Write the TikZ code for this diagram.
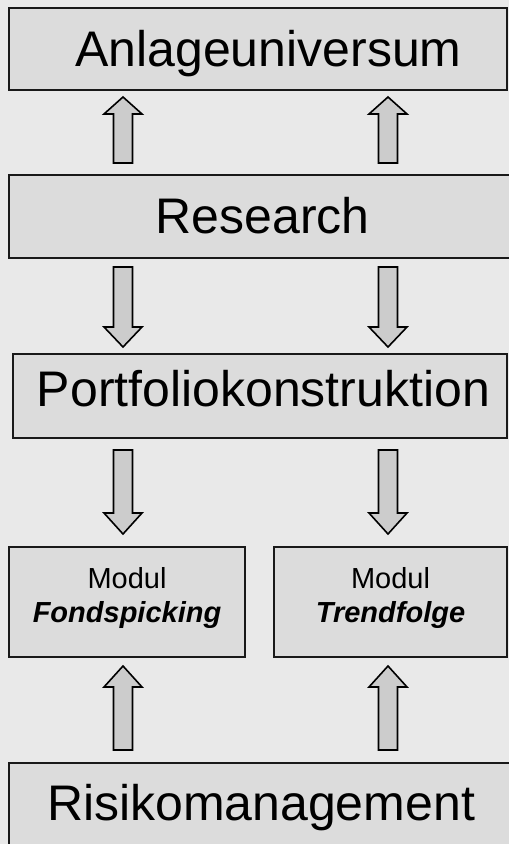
\documentclass[tikz,border=0pt]{standalone}
\usepackage{fontspec}
\setmainfont{Liberation Sans}
\definecolor{bgc}{HTML}{E9E9E9}
\definecolor{boxc}{HTML}{DCDCDC}
\definecolor{arrc}{HTML}{CCCCCC}
\newcommand\UpArr[4]{% x, tip, base, bottom
  \draw[barrow] ({#1-9.5},#4) -- ({#1-9.5},#3) -- ({#1-19},#3) -- (#1,#2) -- ({#1+19},#3) -- ({#1+9.5},#3) -- ({#1+9.5},#4) -- cycle;}
\newcommand\DnArr[4]{% x, top, base, tip
  \draw[barrow] ({#1-9.5},#2) -- ({#1-9.5},#3) -- ({#1-19},#3) -- (#1,#4) -- ({#1+19},#3) -- ({#1+9.5},#3) -- ({#1+9.5},#2) -- cycle;}
\begin{document}
\begin{tikzpicture}[x=1pt,y=-1pt,
  box/.style={draw=black!90, line width=1.6pt, fill=boxc, inner sep=0pt, outer sep=0pt, anchor=north west},
  big/.style={font=\fontsize{50}{60}\selectfont, inner sep=0pt, anchor=base},
  small/.style={font=\fontsize{29}{34}\selectfont, inner sep=0pt, anchor=base, align=center},
  barrow/.style={draw=black, line width=1.6pt, fill=arrc, line join=miter}]
\fill[bgc] (0,0) rectangle (509,844);
\useasboundingbox (0,0) rectangle (509,844);
% boxes
\node[box, minimum width=498pt, minimum height=82pt] (anl) at (9,8) {};
\node[big] (anlt) at (268.5,66) {Anlageuniversum};
\node[box, minimum width=503pt, minimum height=83pt] (res) at (9,175) {};
\node[big] (rest) at (262.5,233) {Research};
\node[box, minimum width=494pt, minimum height=84pt] (port) at (13,354) {};
\node[big] (portt) at (263.5,406) {Portfoliokonstruktion};
\node[box, minimum width=236pt, minimum height=110pt] (fonds) at (9,547) {};
\node[small] (fondst1) at (127,588) {Modul};
\node[small] (fondst2) at (127,622) {\textbf{\textit{Fondspicking}}};
\node[box, minimum width=233pt, minimum height=110pt] (trend) at (274,547) {};
\node[small] (trendt1) at (390.5,588) {Modul};
\node[small] (trendt2) at (390.5,622) {\textbf{\textit{Trendfolge}}};
\node[box, minimum width=505pt, minimum height=95pt] (risk) at (9,763) {};
\node[big] (riskt) at (261,820) {Risikomanagement};
% arrows
\UpArr{123}{97}{114}{163}
\UpArr{388}{97}{114}{163}
\DnArr{123}{267}{327}{347}
\DnArr{388}{267}{327}{347}
\DnArr{123}{450}{513}{534}
\DnArr{388}{450}{513}{534}
\UpArr{123}{666}{687}{750}
\UpArr{388}{666}{687}{750}
\end{tikzpicture}
\end{document}
